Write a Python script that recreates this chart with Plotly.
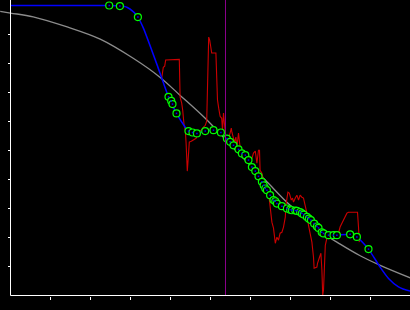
import plotly.graph_objects as go

# Gray reference curve
gray_x = [-0.2575, 0.0, 0.5675, 1.4175, 2.2425, 3.0675, 3.7425, 4.2425, 4.8675, 5.3675, 5.7425, 6.3675, 6.9925, 7.3675,
          7.8175, 8.2425, 8.7425, 9.2425, 9.9925]
gray_y = [0.980, 0.974, 0.961, 0.926, 0.884, 0.818, 0.752, 0.690, 0.611, 0.539, 0.484, 0.398, 0.311, 0.270,
          0.215, 0.177, 0.137, 0.104, 0.061]

# Red noisy series
red_x = [3.78, 3.82, 3.855, 3.88, 4.22, 4.23, 4.24, 4.28, 4.305, 4.34, 4.37, 4.39, 4.42, 4.44, 4.47, 4.52, 4.57, 4.64, 4.69, 4.77,
         4.82, 4.87, 4.905, 4.93, 4.94, 4.955, 4.98, 5.005, 5.03, 5.135, 5.155, 5.175, 5.205, 5.24, 5.28, 5.30, 5.325, 5.35, 5.37, 5.41,
         5.455, 5.49, 5.52, 5.535, 5.56, 5.60, 5.635, 5.66, 5.70, 5.72, 5.74, 5.785, 5.825, 5.91, 5.99, 6.035, 6.075, 6.12, 6.14, 6.16,
         6.20, 6.225, 6.24, 6.285, 6.325, 6.37, 6.41, 6.45, 6.49, 6.535, 6.575, 6.62, 6.66, 6.70, 6.74, 6.785, 6.825, 6.87, 6.885, 6.91,
         6.935, 6.97, 6.99, 7.02, 7.05, 7.075, 7.12, 7.16, 7.20, 7.24, 7.285, 7.325, 7.37, 7.41, 7.45, 7.49, 7.535, 7.575, 7.59, 7.66,
         7.675, 7.725, 7.76, 7.785, 7.805, 7.825, 7.84, 7.87, 7.91, 7.95, 8.04, 8.12, 8.20, 8.24, 8.285, 8.325, 8.37, 8.41, 8.45, 8.675,
         8.70, 8.72]
red_y = [0.749, 0.787, 0.791, 0.812, 0.814, 0.770, 0.684, 0.663, 0.639, 0.587, 0.570, 0.525, 0.429, 0.467, 0.529, 0.532, 0.536, 0.542, 0.563, 0.570,
         0.580, 0.587, 0.601, 0.732, 0.846, 0.891, 0.881, 0.863, 0.836, 0.836, 0.749, 0.674, 0.646, 0.618, 0.611, 0.570, 0.629, 0.580, 0.560, 0.536,
         0.546, 0.560, 0.577, 0.563, 0.546, 0.529, 0.546, 0.511, 0.560, 0.529, 0.511, 0.494, 0.494, 0.467, 0.477, 0.473, 0.491, 0.498, 0.477, 0.456,
         0.501, 0.501, 0.432, 0.422, 0.398, 0.380, 0.370, 0.356, 0.311, 0.253, 0.232, 0.180, 0.201, 0.191, 0.215, 0.218, 0.236, 0.270, 0.311, 0.336,
         0.356, 0.353, 0.339, 0.329, 0.336, 0.322, 0.336, 0.346, 0.329, 0.346, 0.339, 0.336, 0.308, 0.284, 0.242, 0.208, 0.184, 0.132, 0.094, 0.098,
         0.111, 0.132, 0.146, 0.087, 0.001, 0.018, 0.087, 0.173, 0.198, 0.198, 0.208, 0.201, 0.215, 0.236, 0.249, 0.260, 0.270, 0.284, 0.287, 0.287,
         0.236, 0.184]

# Blue fitted curve
blue_x = [0.0, 2.24, 2.468, 2.735, 2.91, 3.075, 3.185, 3.325, 3.66, 3.95, 4.15, 4.36, 4.45, 4.66, 4.868, 5.075, 5.26, 5.41, 5.575, 5.785,
          5.95, 6.12, 6.285, 6.41, 6.575, 6.66, 6.785, 6.91, 7.035, 7.16, 7.285, 7.41, 7.59, 7.70, 7.825, 7.95, 8.16, 8.49, 8.66, 8.95,
          9.24, 9.45, 9.70, 9.99, 10.25]
blue_y = [1.0, 1.0, 1.0, 0.998, 0.994, 0.978, 0.960, 0.921, 0.797, 0.685, 0.628, 0.582, 0.567, 0.559, 0.567, 0.570, 0.562, 0.541, 0.518, 0.490,
          0.467, 0.429, 0.392, 0.363, 0.329, 0.317, 0.308, 0.300, 0.294, 0.292, 0.283, 0.271, 0.248, 0.233, 0.214, 0.208, 0.208, 0.211, 0.202, 0.160,
          0.098, 0.059, 0.030, 0.015, 0.008]

# Green circle markers
mark_x = [2.468, 2.735, 3.185, 3.95, 4.018, 4.05, 4.15, 4.45, 4.55, 4.66, 4.868, 5.075, 5.26, 5.41, 5.49, 5.575, 5.70, 5.785, 5.87, 5.95,
          6.035, 6.12, 6.20, 6.285, 6.33, 6.37, 6.41, 6.49, 6.575, 6.62, 6.66, 6.785, 6.91, 6.99, 7.035, 7.12, 7.16, 7.24, 7.285, 7.33,
          7.41, 7.46, 7.51, 7.59, 7.66, 7.70, 7.78, 7.825, 7.95, 8.075, 8.16, 8.49, 8.66, 8.95]
mark_y = [1.000, 0.998, 0.960, 0.685, 0.671, 0.660, 0.628, 0.567, 0.562, 0.559, 0.567, 0.570, 0.562, 0.541, 0.530, 0.518, 0.504, 0.490, 0.484, 0.467,
          0.443, 0.429, 0.411, 0.392, 0.380, 0.369, 0.363, 0.346, 0.329, 0.325, 0.317, 0.308, 0.300, 0.296, 0.294, 0.293, 0.292, 0.288, 0.283, 0.279,
          0.271, 0.265, 0.260, 0.248, 0.238, 0.233, 0.218, 0.214, 0.208, 0.208, 0.208, 0.211, 0.202, 0.160]

x_ticks = [1, 2, 3, 4, 5, 6, 7, 8, 9]
y_ticks = [0.1, 0.2, 0.3, 0.4, 0.5, 0.6, 0.7, 0.8, 0.9]
marker_line_x = 5.375

X_RANGE = [-0.2625, 9.9875]
Y_RANGE = [-0.05, 1.01897]

fig = go.Figure()
fig.add_trace(go.Scatter(x=gray_x, y=gray_y, mode="lines",
                         line=dict(color="#8c8c8c", width=1.3, shape="spline", smoothing=1.0)))
fig.add_trace(go.Scatter(x=red_x, y=red_y, mode="lines",
                         line=dict(color="#cc0000", width=1.1)))
fig.add_trace(go.Scatter(x=blue_x, y=blue_y, mode="lines",
                         line=dict(color="#0000ff", width=1.5, shape="spline", smoothing=0.5)))
fig.add_trace(go.Scatter(x=mark_x, y=mark_y, mode="markers",
                         marker=dict(symbol="circle", size=7, color="black",
                                     line=dict(width=1.2, color="#00ff00"))))
fig.add_trace(go.Scatter(x=mark_x, y=mark_y, mode="markers",
                         marker=dict(symbol="square", size=1.5, color="#0000ff", line=dict(width=0))))

# vertical marker line
fig.add_shape(type="line", x0=marker_line_x, x1=marker_line_x, y0=0, y1=Y_RANGE[1],
              xref="x", yref="y", line=dict(color="#8a008a", width=1), layer="above")
# axis lines
fig.add_shape(type="line", x0=0, x1=X_RANGE[1], y0=0, y1=0, xref="x", yref="y",
              line=dict(color="white", width=1), layer="above")
fig.add_shape(type="line", x0=0, x1=0, y0=0, y1=Y_RANGE[1], xref="x", yref="y",
              line=dict(color="white", width=1), layer="above")

fig.update_layout(
    width=410, height=310,
    margin=dict(l=0, r=0, t=0, b=0),
    paper_bgcolor="black", plot_bgcolor="black",
    showlegend=False,
    xaxis=dict(range=X_RANGE, anchor="free", position=14.5 / 310,
               tickvals=x_ticks, ticks="outside", ticklen=3, tickwidth=1, tickcolor="white",
               showticklabels=False, showgrid=False, zeroline=False, showline=False),
    yaxis=dict(range=Y_RANGE, anchor="free", position=10.5 / 410,
               tickvals=y_ticks, ticks="outside", ticklen=3, tickwidth=1, tickcolor="white",
               showticklabels=False, showgrid=False, zeroline=False, showline=False),
)

fig.write_html("out.html")
